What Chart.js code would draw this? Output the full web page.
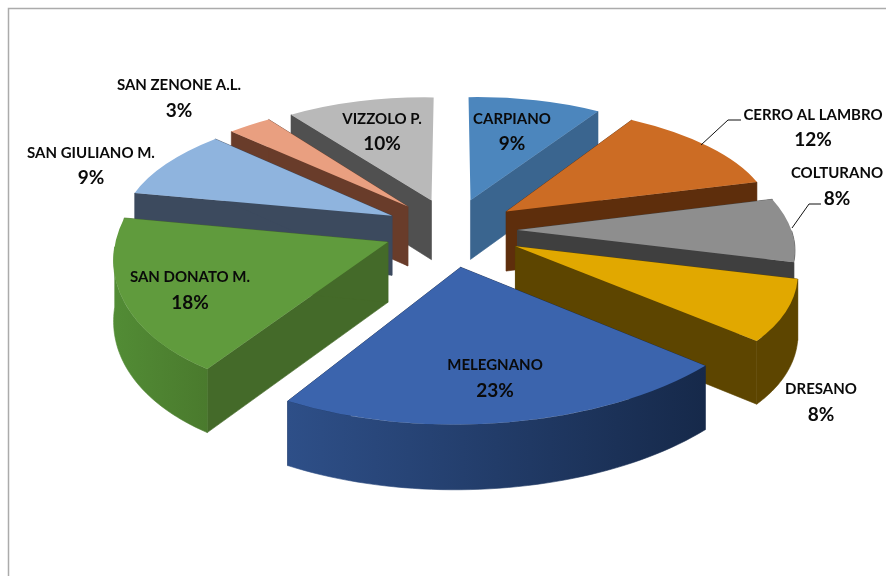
<!DOCTYPE html>
<html>
<head>
<meta charset="utf-8">
<style>
  html, body { margin: 0; padding: 0; background: #fff; }
  #pie { display: block; }
</style>
<script src="https://cdn.jsdelivr.net/npm/chart.js@4/dist/chart.umd.js"></script>
</head>
<body>
<canvas id="pie" width="886" height="576"></canvas>
<script>
// Share of each municipality, clockwise from twelve o'clock.
const municipalities = ['CARPIANO', 'CERRO AL LAMBRO', 'COLTURANO', 'DRESANO', 'MELEGNANO',
                        'SAN DONATO M.', 'SAN GIULIANO M.', 'SAN ZENONE A.L.', 'VIZZOLO P.'];
const shares = [9, 12, 8, 8, 23, 18, 9, 3, 10];

// Slice colours: top face, radial wall, and the rim wall's left and right shades.
const topColors  = ['#4c86bd', '#cc6c24', '#8e8e8e', '#e1a800', '#3b64ad', '#609b3d', '#8fb4de', '#e99f80', '#b9b9b9'];
const sideColors = ['#3a658f', '#5e2e0c', '#3f3f3f', '#5d4500', '#16294a', '#446a29', '#3c4a5e', '#693c2a', '#505050'];
const rimLeft    = ['#3a658f', '#5e2e0c', '#3f3f3f', '#5d4500', '#2e4f88', '#528c35', '#3c4a5e', '#693c2a', '#505050'];
const rimRight   = ['#3a658f', '#5e2e0c', '#3f3f3f', '#5d4500', '#16294a', '#4a7a2d', '#3c4a5e', '#693c2a', '#505050'];

// How far each slice is pulled out of the pie, in radii.
const explosion = [0.25, 0.25, 0.24, 0.26, 0.28, 0.25, 0.25, 0.25, 0.25];

// Centre of each text block: name line, then percentage line.
const labelX     = [512, 813, 837, 821, 495, 190, 91, 179, 382];
const labelNameY = [119, 115, 173, 389, 365, 277, 153, 85, 119];
const labelPctY  = [144, 140, 199, 415, 391, 303, 178, 111, 144];

// Elbow leader lines for the two labels that sit off their slices.
const leaders = [
  [[701, 145], [728, 120], [741, 120]],
  [[792, 228], [809, 204], [821, 204]]
];

// Camera model for the tilted pie (lengths in units of the radius).
const view = { cx: 452, cy: 230, radius: 273, tilt: 0.47, perspective: 0.122, wall: 60 };

function project(X, Y) {
  const w = 1 - view.perspective * Y;
  // Wide-angle bow: the near half drifts sideways, the far half sinks slightly.
  const q = Y * Y;
  const bowX = Y > 0 ? q * (15 + 8 * X) : 0;
  const bowY = Y > 0 ? q * (3 - 10 * X) : q * 3.5;
  return {
    x: view.cx + view.radius * X / w + bowX,
    y: view.cy + view.tilt * view.radius * Y / w + bowY,
    depth: view.wall * Math.sqrt(1 / w)
  };
}

// Affine frame of a slice: maps unit-circle offsets from the apex onto the screen
// so that apex and both rim corners land on their projected positions.
function sliceFrame(arc, pull) {
  const a1 = arc.startAngle, a2 = arc.endAngle, mid = (a1 + a2) / 2;
  const ox = pull * Math.cos(mid), oy = pull * Math.sin(mid);
  const apex = project(ox, oy);
  const p1 = project(ox + Math.cos(a1), oy + Math.sin(a1));
  const p2 = project(ox + Math.cos(a2), oy + Math.sin(a2));
  const c1 = Math.cos(a1), s1 = Math.sin(a1), c2 = Math.cos(a2), s2 = Math.sin(a2);
  const det = c1 * s2 - c2 * s1;
  const ax = p1.x - apex.x, ay = p1.y - apex.y, bx = p2.x - apex.x, by = p2.y - apex.y;
  const m = {
    a: (ax * s2 - bx * s1) / det, c: (bx * c1 - ax * c2) / det,
    b: (ay * s2 - by * s1) / det, d: (by * c1 - ay * c2) / det
  };
  return {
    m, apex, ox, oy,
    at(t) {
      const u = Math.cos(t), v = Math.sin(t);
      const depth = project(ox + u, oy + v).depth;
      return { x: apex.x + m.a * u + m.c * v, y: apex.y + m.b * u + m.d * v, depth };
    }
  };
}

function drawQuad(ctx, pts, fill) {
  ctx.beginPath();
  pts.forEach((p, i) => i ? ctx.lineTo(p.x, p.y) : ctx.moveTo(p.x, p.y));
  ctx.closePath();
  ctx.fillStyle = fill;
  ctx.fill();
  ctx.strokeStyle = fill;
  ctx.lineWidth = 0.6;
  ctx.stroke();
}

function drawWalls(ctx, arc, frame, i) {
  const down = p => ({ x: p.x, y: p.y + p.depth });
  [arc.startAngle, arc.endAngle].forEach(t => {
    const rim = frame.at(t);
    // A nearly vertical cut shows no wall at all.
    if (Math.abs(rim.x - frame.apex.x) < 8) return;
    drawQuad(ctx, [frame.apex, rim, down(rim), down(frame.apex)], sideColors[i]);
  });
  // Only the part of the rim that faces the viewer is visible.
  const from = Math.max(arc.startAngle, 0), to = Math.min(arc.endAngle, Math.PI);
  if (to > from) {
    const top = [];
    for (let k = 0; k <= 48; k++) top.push(frame.at(from + (to - from) * k / 48));
    const xs = top.map(p => p.x);
    const grad = ctx.createLinearGradient(Math.min(...xs), 0, Math.max(...xs), 0);
    grad.addColorStop(0, rimLeft[i]);
    grad.addColorStop(1, rimRight[i]);
    drawQuad(ctx, top.concat(top.map(down).reverse()), grad);
  }
}

const tiltedPie = {
  id: 'tiltedPie',
  beforeDatasetDraw(chart) {
    const ctx = chart.ctx;
    const arcs = chart.getDatasetMeta(0).data;
    // Paint from the back of the pie to the front.
    const order = arcs.map((arc, i) => i).sort((p, q) => {
      const my = k => Math.sin((arcs[k].startAngle + arcs[k].endAngle) / 2);
      return my(p) - my(q);
    });
    order.forEach(i => {
      const arc = arcs[i];
      const frame = sliceFrame(arc, explosion[i]);
      drawWalls(ctx, arc, frame, i);
      const R = arc.outerRadius, m = frame.m;
      ctx.save();
      ctx.transform(m.a / R, m.b / R, m.c / R, m.d / R,
                    frame.apex.x - (m.a * arc.x + m.c * arc.y) / R,
                    frame.apex.y - (m.b * arc.x + m.d * arc.y) / R);
      arc.draw(ctx);
      ctx.restore();
    });
    return false;
  },
  afterDraw(chart) {
    const ctx = chart.ctx;
    ctx.save();
    // Chart frame: top and left rules only.
    ctx.strokeStyle = '#ababab';
    ctx.lineWidth = 1.5;
    ctx.beginPath();
    ctx.moveTo(886, 8.5);
    ctx.lineTo(8.5, 8.5);
    ctx.lineTo(8.5, 576);
    ctx.stroke();
    // Leader lines.
    ctx.strokeStyle = '#111';
    ctx.lineWidth = 1;
    leaders.forEach(line => {
      ctx.beginPath();
      line.forEach(([x, y], k) => k ? ctx.lineTo(x, y) : ctx.moveTo(x, y));
      ctx.stroke();
    });
    // Name and percentage labels.
    ctx.fillStyle = '#0a0a0a';
    ctx.textAlign = 'center';
    ctx.textBaseline = 'middle';
    municipalities.forEach((name, i) => {
      ctx.font = 'bold 15px Lato';
      ctx.fillText(name, labelX[i], labelNameY[i]);
      ctx.font = 'bold 19px Lato';
      ctx.fillText(shares[i] + '%', labelX[i], labelPctY[i]);
    });
    ctx.restore();
  }
};

new Chart(document.getElementById('pie'), {
  type: 'pie',
  data: {
    labels: municipalities,
    datasets: [{ data: shares, backgroundColor: topColors, borderWidth: 0 }]
  },
  options: {
    responsive: false,
    animation: false,
    events: [],
    layout: { padding: 0 },
    plugins: { legend: { display: false }, tooltip: { enabled: false } }
  },
  plugins: [tiltedPie]
});
</script>
</body>
</html>
